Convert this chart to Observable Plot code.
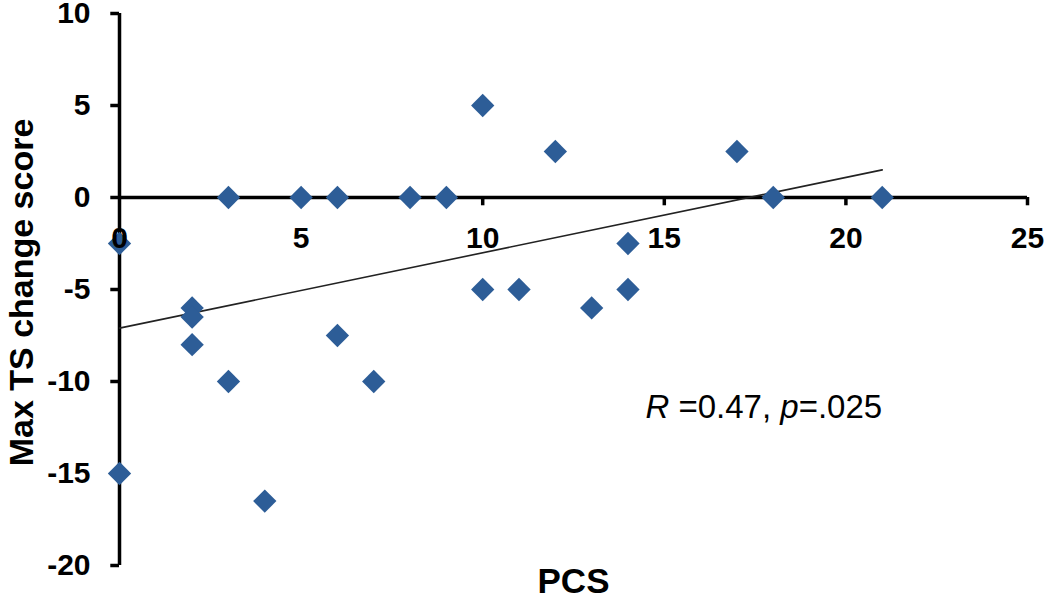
<!DOCTYPE html>
<html>
<head>
<meta charset="utf-8">
<script src="https://cdn.jsdelivr.net/npm/d3@7"></script>
<script src="https://cdn.jsdelivr.net/npm/@observablehq/plot@0.6"></script>
<style>
  html, body { margin: 0; padding: 0; background: #fff; }
  #chart svg { display: block; }
</style>
</head>
<body>
<div id="chart"></div>
<script>
// Data
const pcs      = [0, 0, 2, 2, 2, 3, 3, 4, 5, 6, 6, 7, 8, 9, 10, 10, 11, 12, 13, 14, 14, 17, 18, 21];
const tsChange = [-2.5, -15, -6, -6.5, -8, 0, -10, -16.5, 0, 0, -7.5, -10, 0, 0, 5, -5, -5, 2.5, -6, -2.5, -5, 2.5, 0, 0];
const xTicks = [0, 5, 10, 15, 20, 25];
const yTicks = [-20, -15, -10, -5, 0, 5, 10];
const fitX = [0, 21];
const fitY = [-7.1, 1.5];
const xLabel = "PCS";
const yLabel = "Max TS change score";
const statText = "R =0.47, p=.025";

const points = pcs.map((x, i) => ({x, y: tsChange[i]}));
const fit = fitX.map((x, i) => ({x, y: fitY[i]}));

const font = "'Liberation Sans', Arial, Helvetica, sans-serif";
const dotColor = "#2d5d97";

const chart = Plot.plot({
  width: 1050,
  height: 609,
  marginLeft: 119,
  marginRight: 23,
  marginTop: 13,
  marginBottom: 44,
  style: {fontFamily: font, background: "#fff", color: "#000"},
  x: {domain: [0, 25], axis: null},
  y: {domain: [-20, 10], axis: null},
  marks: [
    // axes lines
    Plot.ruleX([0], {y1: -20, y2: 10, stroke: "#000", strokeWidth: 3.5}),
    Plot.ruleY([0], {x1: 0, x2: 25, stroke: "#000", strokeWidth: 3.5}),
    // y ticks (pointing left)
    Plot.ruleY(yTicks, {y: d => d, x1: 0, x2: -0.24, stroke: "#000", strokeWidth: 3.5}),
    // x ticks (pointing down from y = 0)
    Plot.ruleX(xTicks.filter(d => d !== 0), {x: d => d, y1: 0, y2: -0.45, stroke: "#000", strokeWidth: 3.5}),
    // regression line
    Plot.line(fit, {x: "x", y: "y", stroke: "#222", strokeWidth: 1.6}),
    // points
    Plot.dot(points, {x: "x", y: "y", symbol: "diamond2", r: 10.5, fill: dotColor, stroke: "none"}),
    // y tick labels
    Plot.text(yTicks, {x: 0, y: d => d, text: d => String(d), dx: -29, textAnchor: "end",
      fontSize: 30, fontWeight: "bold", fill: "#000"}),
    // x tick labels
    Plot.text(xTicks, {x: d => d, y: 0, text: d => String(d), dy: 41, textAnchor: "middle",
      fontSize: 30, fontWeight: "bold", fill: "#000"}),
    // axis titles
    Plot.text([xLabel], {frameAnchor: "bottom", text: d => d, dy: 27, textAnchor: "middle", fontSize: 35, fontWeight: "bold", fill: "#000"}),
    Plot.text([yLabel], {frameAnchor: "left", text: d => d, dx: -97, dy: 3, rotate: -90, textAnchor: "middle", fontSize: 34, fontWeight: "bold", fill: "#000"}),
    // statistics annotation
    Plot.text([statText], {x: 14.48, y: -11.4, text: d => d, textAnchor: "start", fontSize: 33, fill: "#000"})
  ]
});

document.getElementById("chart").appendChild(chart);

// Italicise R and p in the annotation
d3.select(chart).selectAll("text").filter(function() { return this.textContent === statText; })
  .each(function() {
    const t = d3.select(this);
    t.text(null);
    t.append("tspan").attr("font-style", "italic").text("R");
    t.append("tspan").text(" =0.47, ");
    t.append("tspan").attr("font-style", "italic").text("p");
    t.append("tspan").text("=.025");
  });
</script>
</body>
</html>
